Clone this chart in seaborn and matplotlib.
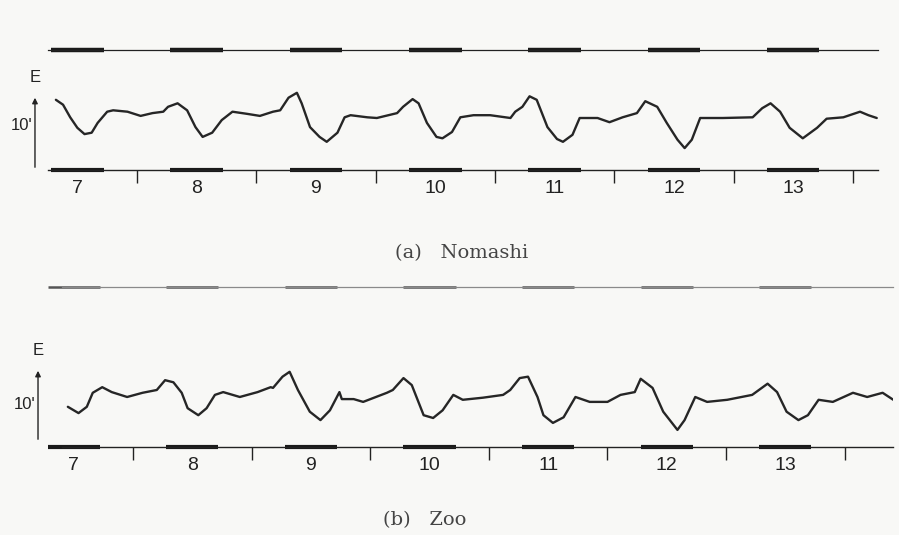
import pandas as pd
import matplotlib.pyplot as plt
import seaborn as sns

# (a) Nomashi: hour of day, E deviation (arc-min, relative to quiet level)
hours_a = [6.82, 6.88, 6.94, 7.00, 7.06, 7.12, 7.17, 7.25, 7.30, 7.42, 7.53, 7.63,
           7.72, 7.76, 7.84, 7.92, 7.99, 8.05, 8.13, 8.21, 8.30, 8.42, 8.53, 8.64,
           8.70, 8.77, 8.84, 8.88, 8.95, 9.03, 9.09, 9.18, 9.24, 9.29, 9.43, 9.51,
           9.68, 9.73, 9.81, 9.86, 9.93, 10.01, 10.06, 10.14, 10.21, 10.32, 10.46,
           10.63, 10.67, 10.73, 10.79, 10.85, 10.94, 11.02, 11.07, 11.15, 11.21, 11.36,
           11.46, 11.57, 11.69, 11.76, 11.86, 11.94, 12.03, 12.09, 12.15, 12.22, 12.41,
           12.66, 12.74, 12.81, 12.89, 12.97, 13.08, 13.20, 13.28, 13.42, 13.56, 13.63,
           13.70]
e_a = [2.6, 1.9, 0.1, -1.4, -2.3, -2.1, -0.7, 0.9, 1.1, 0.9, 0.3, 0.7,
       0.9, 1.6, 2.1, 1.1, -1.3, -2.7, -2.1, -0.3, 0.9, 0.6, 0.3, 0.9,
       1.1, 2.9, 3.6, 2.1, -1.3, -2.7, -3.4, -2.1, 0.1, 0.4, 0.1, 0.0,
       0.7, 1.6, 2.7, 2.1, -0.7, -2.7, -2.9, -2.0, 0.1, 0.4, 0.4,
       0.0, 0.9, 1.6, 3.1, 2.6, -1.3, -3.0, -3.4, -2.4, 0.0, 0.0,
       -0.6, 0.1, 0.7, 2.4, 1.6, -0.7, -3.1, -4.3, -3.1, 0.0, 0.0,
       0.1, 1.4, 2.1, 0.9, -1.4, -2.9, -1.4, -0.1, 0.1, 0.9, 0.4,
       0.0]

# (b) Zoo
hours_b = [6.95, 7.04, 7.11, 7.16, 7.24, 7.32, 7.45, 7.58, 7.70, 7.77, 7.84, 7.91,
           7.96, 8.05, 8.12, 8.19, 8.26, 8.40, 8.55, 8.66, 8.68, 8.76, 8.82, 8.89,
           8.99, 9.08, 9.16, 9.24, 9.26, 9.36, 9.44, 9.64, 9.69, 9.78, 9.85, 9.95,
           10.03, 10.11, 10.20, 10.28, 10.45, 10.62, 10.68, 10.76, 10.83, 10.91, 10.96,
           11.04, 11.13, 11.23, 11.35, 11.50, 11.61, 11.73, 11.78, 11.88, 11.97, 12.09,
           12.15, 12.24, 12.34, 12.51, 12.72, 12.85, 12.93, 13.01, 13.11, 13.19, 13.28,
           13.40, 13.57, 13.69, 13.82, 13.91]
e_b = [-1.4, -2.3, -1.4, 0.6, 1.4, 0.7, 0.0, 0.6, 1.0, 2.4, 2.1, 0.6,
       -1.6, -2.6, -1.6, 0.3, 0.7, 0.0, 0.7, 1.4, 1.3, 2.9, 3.6, 1.0,
       -2.1, -3.3, -1.9, 0.7, -0.3, -0.3, -0.7, 0.6, 1.0, 2.7, 1.7, -2.6,
       -3.0, -1.9, 0.3, -0.4, -0.1, 0.3, 1.0, 2.7, 2.9, 0.0, -2.6,
       -3.7, -2.9, 0.0, -0.7, -0.7, 0.3, 0.7, 2.6, 1.3, -2.1, -4.7,
       -3.3, 0.0, -0.7, -0.4, 0.3, 1.9, 0.7, -2.1, -3.3, -2.6, -0.4,
       -0.7, 0.6, 0.0, 0.6, -0.4]

hour_labels = [7, 8, 9, 10, 11, 12, 13]
half_hours = [7.5, 8.5, 9.5, 10.5, 11.5, 12.5, 13.5]
captions = ['(a)   Nomashi', '(b)   Zoo']

sns.set_style('white')
plt.rcParams['font.family'] = ['Liberation Sans', 'DejaVu Sans']

fig = plt.figure(figsize=(8.99, 5.35), dpi=100, facecolor='#f8f8f6')

panels = [
    dict(hours=hours_a, e=e_a, rect=[0.0534, 0.6822, 0.9233, 0.2243],
         xlim=(6.754, 13.711), ylim=(-7.43, 9.71), arrow_x=-0.0157,
         arrow=(-7.43, 3.29), e_y=4.71, ten_y=-1.0, top_col='#222',
         top_mark=('#1a1a1a', 3.2)),
    dict(hours=hours_b, e=e_b, rect=[0.069, 0.1645, 0.9244, 0.2991],
         xlim=(6.901, 13.908), ylim=(-7.14, 15.71), arrow_x=-0.0289,
         arrow=(-6.43, 4.14), e_y=5.57, ten_y=-1.14, top_col='#8a8a8a',
         top_mark=('#555', 1.8)),
]

for p in panels:
    ax = fig.add_axes(p['rect'])
    ax.set_facecolor('none')
    df = pd.DataFrame({'hour': p['hours'], 'E': p['e']})
    sns.lineplot(data=df, x='hour', y='E', ax=ax, color='#262626', lw=1.7,
                 sort=False, estimator=None, solid_joinstyle='round',
                 solid_capstyle='round')
    ax.set_xlim(*p['xlim'])
    ax.set_ylim(*p['ylim'])
    ax.set_xlabel('')
    ax.set_ylabel('')
    ax.set_yticks([])
    for s in ['left', 'right']:
        ax.spines[s].set_visible(False)
    ax.spines['bottom'].set_color('#222')
    ax.spines['bottom'].set_linewidth(1.0)
    ax.spines['top'].set_color(p['top_col'])
    ax.spines['top'].set_linewidth(0.9)

    # hour marks on the time lines
    for h in hour_labels:
        ax.hlines(p['ylim'][0], h - 0.22, h + 0.22, color='#1a1a1a', lw=3.0, clip_on=False)
        ax.hlines(p['ylim'][1], h - 0.22, h + 0.22, color=p['top_mark'][0],
                  lw=p['top_mark'][1], clip_on=False)

    ax.set_xticks(hour_labels)
    ax.set_xticklabels([str(h) for h in hour_labels], fontsize=14, color='#222')
    ax.set_xticks(half_hours, minor=True)
    ax.tick_params(axis='x', which='major', length=0, pad=7)
    ax.tick_params(axis='x', which='minor', length=9, width=1.0, color='#222',
                   direction='out', bottom=True)

    # E arrow and scale label
    ax.annotate('', xy=(p['arrow_x'], p['arrow'][1]), xytext=(p['arrow_x'], p['arrow'][0]),
                xycoords=('axes fraction', 'data'),
                arrowprops=dict(arrowstyle='-|>', color='#222', lw=1.0, mutation_scale=8),
                annotation_clip=False)
    ax.text(p['arrow_x'], p['e_y'], 'E', transform=ax.get_yaxis_transform(),
            ha='center', va='bottom', fontsize=12, color='#222')
    ax.text(p['arrow_x'] - 0.003, p['ten_y'], "10'", transform=ax.get_yaxis_transform(),
            ha='right', va='center', fontsize=12, color='#222')

fig.text(395 / 899, 1 - 253 / 535, captions[0], ha='left', va='center', fontsize=14,
         family=['DejaVu Serif'], color='#444')
fig.text(383 / 899, 1 - 520 / 535, captions[1], ha='left', va='center', fontsize=14,
         family=['DejaVu Serif'], color='#444')

fig.savefig('out.png', dpi=100, facecolor=fig.get_facecolor())
